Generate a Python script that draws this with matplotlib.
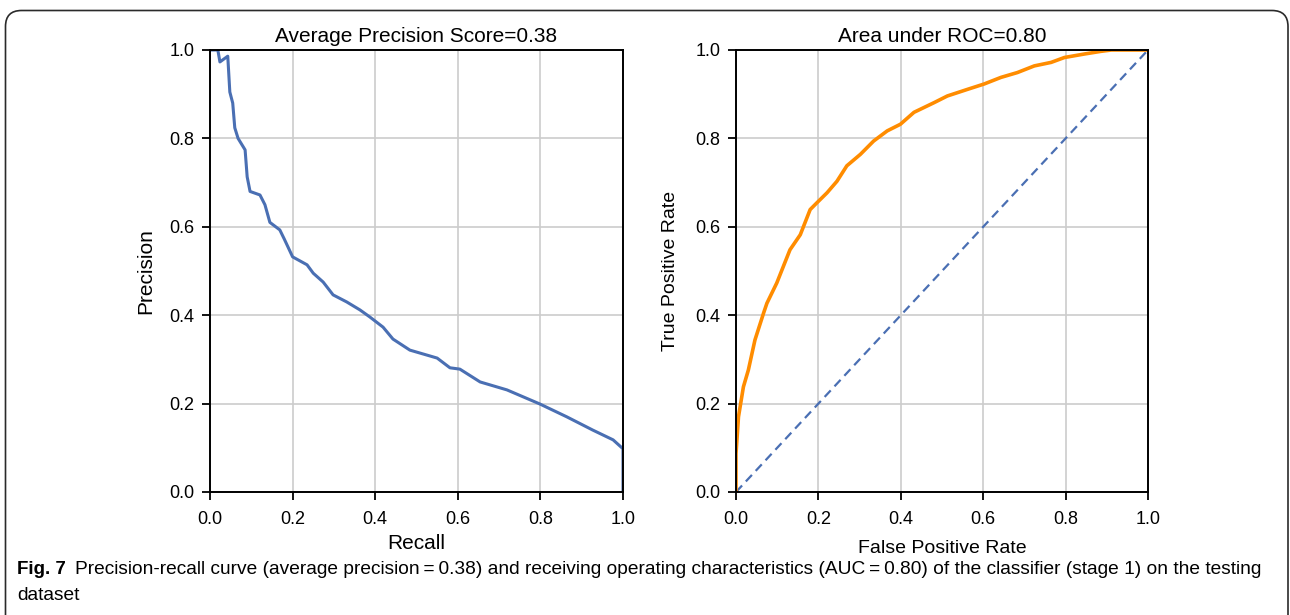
import matplotlib
matplotlib.use("Agg")
import matplotlib.pyplot as plt
from matplotlib.patches import FancyBboxPatch
from matplotlib.transforms import IdentityTransform

# Precision-recall curve of the stage-1 classifier
recall = [0.0, 0.019, 0.024, 0.043, 0.048, 0.055, 0.060, 0.068, 0.085, 0.090,
          0.097, 0.121, 0.133, 0.145, 0.169, 0.18, 0.2, 0.235, 0.25, 0.274,
          0.298, 0.331, 0.363, 0.387, 0.419, 0.443, 0.484, 0.55, 0.581, 0.605,
          0.654, 0.719, 0.799, 0.864, 0.927, 0.976, 0.995, 1.0, 1.0]
precision = [1.0, 1.0, 0.973, 0.986, 0.905, 0.88, 0.824, 0.80, 0.774, 0.713,
             0.68, 0.672, 0.65, 0.61, 0.593, 0.572, 0.532, 0.514, 0.495, 0.475,
             0.446, 0.430, 0.412, 0.396, 0.373, 0.346, 0.321, 0.303, 0.281, 0.278,
             0.249, 0.231, 0.199, 0.17, 0.14, 0.118, 0.102, 0.098, 0.0]

# ROC curve
fpr = [0.0, 0.0, 0.006, 0.018, 0.03, 0.046, 0.067, 0.075, 0.099, 0.131, 0.156,
       0.18, 0.196, 0.221, 0.245, 0.269, 0.302, 0.334, 0.367, 0.399, 0.432,
       0.481, 0.513, 0.562, 0.602, 0.643, 0.683, 0.724, 0.765, 0.797, 0.846,
       0.886, 0.911, 1.0]
tpr = [0.0, 0.087, 0.17, 0.238, 0.276, 0.344, 0.405, 0.427, 0.473, 0.548, 0.582,
       0.639, 0.654, 0.677, 0.703, 0.738, 0.764, 0.794, 0.817, 0.832, 0.859,
       0.881, 0.896, 0.911, 0.923, 0.938, 0.949, 0.964, 0.972, 0.983, 0.991,
       0.997, 1.0, 1.0]

chance = [0.0, 1.0]
ticks = [0.0, 0.2, 0.4, 0.6, 0.8, 1.0]
tick_labels = ["0.0", "0.2", "0.4", "0.6", "0.8", "1.0"]

ap_title = "Average Precision Score=0.38"
roc_title = "Area under ROC=0.80"
caption_head = "Fig. 7"
caption_line1 = ("Precision-recall curve (average precision\u2009=\u20090.38) and receiving "
                 "operating characteristics (AUC\u2009=\u20090.80) of the classifier "
                 "(stage 1) on the testing")
caption_line2 = "dataset"

W, H = 1290, 615
fig = plt.figure(figsize=(W / 100, H / 100), dpi=100)
fig.patch.set_facecolor("white")

plt.rcParams["font.family"] = ["Liberation Sans", "DejaVu Sans"]

BLUE = "#4a6fb3"
ORANGE = "#ff8c00"


def style_axes(ax):
    ax.set_xlim(0, 1)
    ax.set_ylim(0, 1)
    ax.set_xticks(ticks)
    ax.set_yticks(ticks)
    ax.set_xticklabels(tick_labels)
    ax.set_yticklabels(tick_labels)
    ax.grid(True, color="#cccccc", linewidth=1.2)
    ax.set_axisbelow(True)
    for s in ax.spines.values():
        s.set_color("black")
        s.set_linewidth(1.4)
    ax.tick_params(direction="out", length=6, width=1.3, labelsize=13,
                   colors="black")
    ax.tick_params(axis="x", pad=8)
    ax.tick_params(axis="y", pad=5)


ax1 = fig.add_axes([210 / W, 1 - 492 / H, 413 / W, 442 / H])
ax1.plot(recall, precision, color=BLUE, linewidth=2.2)
style_axes(ax1)
ax1.set_title(ap_title, fontsize=15, pad=6)
ax1.set_xlabel("Recall", fontsize=15, labelpad=4)
ax1.set_ylabel("Precision", fontsize=15, labelpad=10)

ax2 = fig.add_axes([736 / W, 1 - 492 / H, 412 / W, 442 / H])
ax2.plot(chance, chance, color=BLUE, linewidth=1.6, linestyle=(0, (4, 2.5)))
ax2.plot(fpr, tpr, color=ORANGE, linewidth=2.6)
style_axes(ax2)
ax2.set_title(roc_title, fontsize=15, pad=6)
ax2.set_xlabel("False Positive Rate", fontsize=14, labelpad=8)
ax2.set_ylabel("True Positive Rate", fontsize=14, labelpad=12)

# rounded frame around the figure, open at the bottom edge
frame = FancyBboxPatch((5.5, -40), 1282.5, 40 + (H - 10.5),
                       boxstyle="round,pad=0,rounding_size=16",
                       transform=IdentityTransform(), fill=False,
                       edgecolor="#2a2a2a", linewidth=1.2)
fig.patches.append(frame)

# caption
cap_font = ["Liberation Sans Narrow", "Liberation Sans", "DejaVu Sans"]
y1 = 1 - 574 / H
y2 = 1 - 600 / H
head = fig.text(17 / W, y1, caption_head, fontsize=13.5, fontweight="bold",
                family=cap_font, va="baseline", ha="left")
fig.canvas.draw()
r = fig.canvas.get_renderer()
hx = head.get_window_extent(r).x1
body = fig.text((hx + 9) / W, y1, caption_line1, fontsize=13.5,
                family=cap_font, va="baseline", ha="left")
fig.canvas.draw()
bw = body.get_window_extent(r).width
target = 1262 - (hx + 9)
body.set_fontsize(13.5 * target / bw)
fig.text(17 / W, y2, caption_line2, fontsize=13.5 * target / bw,
         family=cap_font, va="baseline", ha="left")

fig.savefig("out.png", dpi=100, facecolor="white")
